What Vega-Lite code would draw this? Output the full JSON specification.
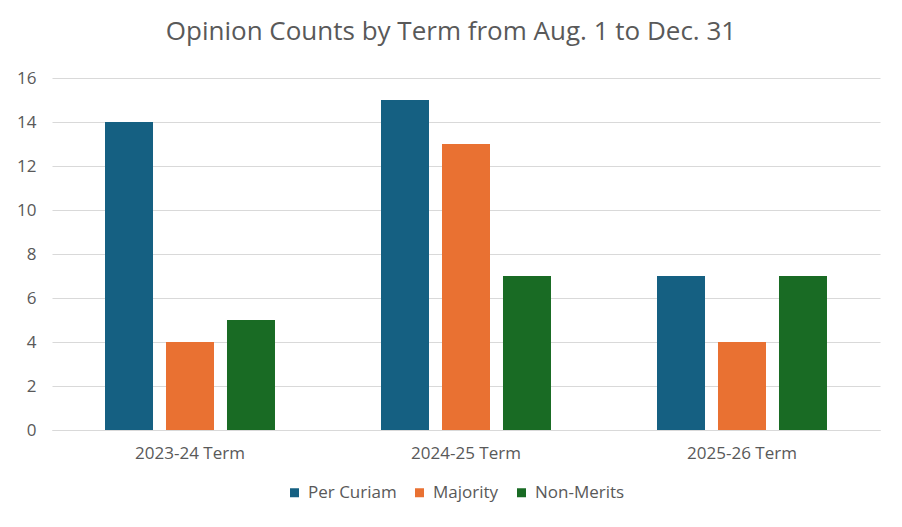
{
  "$schema": "https://vega.github.io/schema/vega-lite/v6.json",
  "autosize": "none",
  "width": 828,
  "height": 352,
  "padding": {"left": 52, "top": 78, "right": 22, "bottom": 97},
  "background": "white",
  "title": {
    "text": "Opinion Counts by Term from Aug. 1 to Dec. 31",
    "fontSize": 26,
    "font": "Open Sans",
    "fontWeight": "normal",
    "color": "#595959",
    "anchor": "middle",
    "dx": -15,
    "offset": 24
  },
  "data": {
    "values": [
      {"term": "2023-24 Term", "type": "Per Curiam", "count": 14},
      {"term": "2023-24 Term", "type": "Majority", "count": 4},
      {"term": "2023-24 Term", "type": "Non-Merits", "count": 5},
      {"term": "2024-25 Term", "type": "Per Curiam", "count": 15},
      {"term": "2024-25 Term", "type": "Majority", "count": 13},
      {"term": "2024-25 Term", "type": "Non-Merits", "count": 7},
      {"term": "2025-26 Term", "type": "Per Curiam", "count": 7},
      {"term": "2025-26 Term", "type": "Majority", "count": 4},
      {"term": "2025-26 Term", "type": "Non-Merits", "count": 7}
    ]
  },
  "mark": {"type": "bar"},
  "encoding": {
    "x": {
      "field": "term", "type": "nominal", "title": null,
      "scale": {"paddingInner": 0, "paddingOuter": 0},
      "axis": {"labelAngle": 0, "labelFontSize": 17, "labelColor": "#595959", "labelFont": "Open Sans", "ticks": false, "domainColor": "#d9d9d9", "labelPadding": 15}
    },
    "xOffset": {
      "field": "type", "type": "nominal",
      "sort": ["Per Curiam", "Majority", "Non-Merits"],
      "scale": {"paddingInner": 0.213, "paddingOuter": 0.869}
    },
    "y": {
      "field": "count", "type": "quantitative", "title": null,
      "scale": {"domain": [0, 16]},
      "axis": {"values": [0, 2, 4, 6, 8, 10, 12, 14, 16], "labelFontSize": 17, "labelColor": "#595959", "labelFont": "Open Sans", "ticks": false, "domain": false, "gridColor": "#d9d9d9", "labelPadding": 16}
    },
    "color": {
      "field": "type", "type": "nominal",
      "sort": ["Per Curiam", "Majority", "Non-Merits"],
      "scale": {"domain": ["Per Curiam", "Majority", "Non-Merits"], "range": ["#156082", "#E97132", "#196B24"]},
      "legend": {
        "title": null, "orient": "none", "direction": "horizontal",
        "legendX": 234, "legendY": 406,
        "symbolType": "square", "symbolSize": 81,
        "labelFontSize": 17, "labelColor": "#595959", "labelFont": "Open Sans",
        "labelOffset": 5,
        "columnPadding": 14
      }
    }
  },
  "config": {"view": {"stroke": null}}
}
